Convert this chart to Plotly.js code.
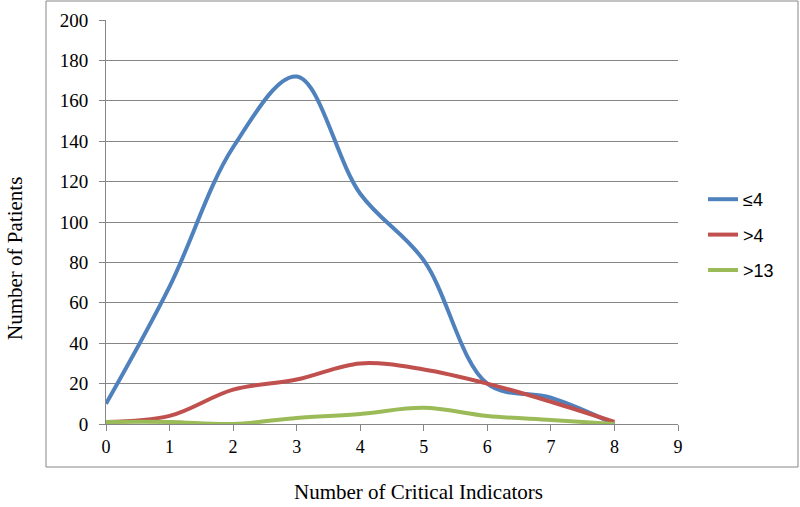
<!DOCTYPE html>
<html>
<head>
<meta charset="utf-8">
<script src="https://cdn.plot.ly/plotly-3.0.1.min.js"></script>
<style>html,body{margin:0;padding:0;background:#fff;}#chart{width:800px;height:507px;}</style>
</head>
<body>
<div id="chart"></div>
<script>
var xValues = [0, 1, 2, 3, 4, 5, 6, 7, 8];
var seriesLe4 = [10, 68, 137, 172, 114, 81, 20, 13, 0];
var seriesGt4 = [1, 4, 17, 22, 30, 27, 20, 11, 1];
var seriesGt13 = [1, 1, 0, 3, 5, 8, 4, 2, 0];
var seriesNames = ['\u22644', '>4', '>13'];
var colors = ['#4F81BD', '#C0504D', '#9BBB59'];
var xTitle = 'Number of Critical Indicators';
var yTitle = 'Number of Patients';

var allSeries = [seriesLe4, seriesGt4, seriesGt13];
var traces = allSeries.map(function (ys, i) {
  return {
    x: xValues, y: ys, name: seriesNames[i], type: 'scatter', mode: 'lines',
    line: {color: colors[i], width: 4, shape: 'spline', smoothing: 1},
    legendgroup: 'g' + i, hoverinfo: 'x+y+name'
  };
});

var W = 800, H = 507, L = 106, R = 678, T = 20, B = 424;
function px(x) { return (x - L) / (R - L); }
function py(y) { return (B - y) / (B - T); }
var axisColor = '#868686';

var layout = {
  width: W, height: H,
  margin: {l: L, r: W - R, t: T, b: H - B, pad: 0},
  paper_bgcolor: '#fff', plot_bgcolor: '#fff',
  showlegend: true,
  legend: {x: px(703), y: py(181), xanchor: 'left', yanchor: 'top',
    font: {family: 'Liberation Sans', size: 18, color: '#000'},
    tracegroupgap: 9, traceorder: 'grouped', bgcolor: 'rgba(0,0,0,0)'},
  xaxis: {range: [0, 9], dtick: 1, tick0: 0, showgrid: false, zeroline: false,
    showline: true, linecolor: axisColor, linewidth: 1,
    ticks: 'outside', ticklen: 6, tickcolor: axisColor,
    tickfont: {family: 'Liberation Serif', size: 18, color: '#000'}, fixedrange: true},
  yaxis: {range: [0, 200], dtick: 20, tick0: 0, showgrid: true, gridcolor: axisColor, gridwidth: 1,
    zeroline: false, showline: true, linecolor: axisColor, linewidth: 1,
    ticks: 'outside', ticklen: 6, tickcolor: axisColor, ticklabelstandoff: 7,
    tickfont: {family: 'Liberation Serif', size: 19, color: '#000'}, fixedrange: true},
  shapes: [{type: 'rect', xref: 'paper', yref: 'paper',
    x0: px(46), x1: px(798), y0: py(467), y1: py(1),
    line: {color: axisColor, width: 1}, fillcolor: 'rgba(0,0,0,0)', layer: 'below'}],
  annotations: [
    {text: xTitle, xref: 'paper', yref: 'paper', x: px(418), y: py(492),
     xanchor: 'center', yanchor: 'middle', showarrow: false, borderpad: 0,
     font: {family: 'Liberation Serif', size: 21, color: '#000'}},
    {text: yTitle, xref: 'paper', yref: 'paper', x: px(15), y: py(259),
     xanchor: 'center', yanchor: 'middle', showarrow: false, textangle: -90,
     font: {family: 'Liberation Serif', size: 21, color: '#000'}}
  ]
};

Plotly.newPlot('chart', traces, layout, {displayModeBar: false, staticPlot: true});
</script>
</body>
</html>
